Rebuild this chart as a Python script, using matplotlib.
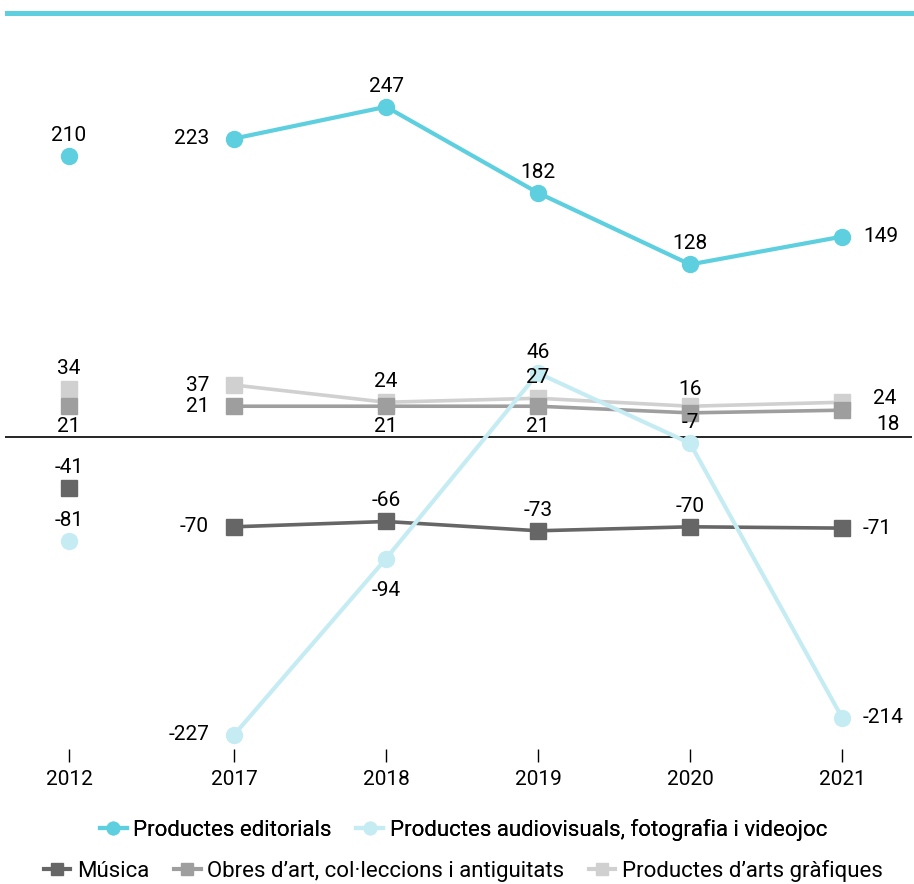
import matplotlib
matplotlib.use('Agg')
import matplotlib.pyplot as plt
from matplotlib.lines import Line2D
from matplotlib.patches import Rectangle

plt.rcParams['font.family'] = ['Roboto', 'DejaVu Sans']

years = ['2012', '2017', '2018', '2019', '2020', '2021']
# 2012 sits a bit further left than the regular yearly spacing
xpos = [-1.086, 0, 1, 2, 3, 4]

editorials = [210, 223, 247, 182, 128, 149]
audiovisuals = [-81, -227, -94, 46, -7, -214]
musica = [-41, -70, -66, -73, -70, -71]
obres = [21, 21, 21, 21, 16, 18]
grafiques = [34, 37, 24, 27, 21, 24]

names = ['Productes editorials',
         'Productes audiovisuals, fotografia i videojoc',
         'Música',
         'Obres d\u2019art, col\u00b7leccions i antiguitats',
         'Productes d\u2019arts gràfiques']

FS = 15

fig = plt.figure(figsize=(9.14, 8.84), dpi=100)
ax = fig.add_axes([5/914, 1 - 749/884, 907/914, (749 - 60)/884])

fig.patches.append(Rectangle((5/914, 1 - 16/884), 909/914, 5/884,
                             transform=fig.transFigure, color='#5dcfdf', lw=0))

# (values, colour, marker, size, width, label placement)
series = [
    (grafiques, '#d0d0d0', 's', 12, 2.6, ['a', 'l', 'a', 'a', None, 'r2']),
    (obres, '#9e9e9e', 's', 12, 2.6, ['b', 'l', 'b', 'b', 'a2', 'r3']),
    (musica, '#666666', 's', 12, 2.6, ['a', 'l', 'a', 'a', 'a', 'r']),
    (audiovisuals, '#c6ecf3', 'o', 11.5, 3, ['a', 'l', 'b2', 'a', 'a', 'r']),
    (editorials, '#5dcfdf', 'o', 11.5, 3, ['a', 'l', 'a', 'a', 'a', 'r']),
]

offsets = {
    'a': ((0, 8), 'center', 'bottom'),
    'a2': ((0, 17), 'center', 'center'),
    'b': ((0, -8), 'center', 'top'),
    'b2': ((0, -16), 'center', 'top'),
    'l': ((-18, 0), 'right', 'center'),
    'r': ((15, 0), 'left', 'center'),
    'r2': ((22, 3), 'left', 'center'),
    'r3': ((25, -10), 'left', 'center'),
}

for vals, col, mk, ms, lw, places in series:
    ax.plot(xpos[:1], vals[:1], marker=mk, ms=ms, color=col, ls='none', zorder=3)
    ax.plot(xpos[1:], vals[1:], marker=mk, ms=ms, color=col, lw=lw, zorder=3)
    for x, v, p in zip(xpos, vals, places):
        if p is None:
            continue
        off, ha, va = offsets[p]
        ax.annotate(str(v), (x, v), xytext=off, textcoords='offset points',
                    ha=ha, va=va, fontsize=FS, color='black', zorder=5)

ax.axhline(-2.5, color='black', lw=1.2, zorder=2)

ax.set_xlim(-1.507, 4.46)
ax.set_ylim(-237.7, 282.3)
ax.set_xticks(xpos)
ax.set_xticklabels(years, fontsize=FS)
ax.tick_params(axis='x', length=9, width=1, color='black', pad=6)
ax.set_yticks([])
for s in ax.spines.values():
    s.set_visible(False)

def handle(col, mk):
    return Line2D([], [], color=col, marker=mk, ms=9, lw=3)

leg1 = fig.legend([handle('#5dcfdf', 'o'), handle('#c6ecf3', 'o')], names[:2],
                  loc='center', bbox_to_anchor=(0.507, 1 - 830/884), ncol=2,
                  frameon=False, fontsize=16, handlelength=1.2,
                  handletextpad=0.3, columnspacing=1.1)
leg2 = fig.legend([handle('#666666', 's'), handle('#9e9e9e', 's'), handle('#d0d0d0', 's')],
                  names[2:], loc='center', bbox_to_anchor=(0.507, 1 - 871/884), ncol=3,
                  frameon=False, fontsize=16, handlelength=1.2,
                  handletextpad=0.3, columnspacing=1.1)
fig.add_artist(leg1)

fig.savefig('out.png', dpi=100)
